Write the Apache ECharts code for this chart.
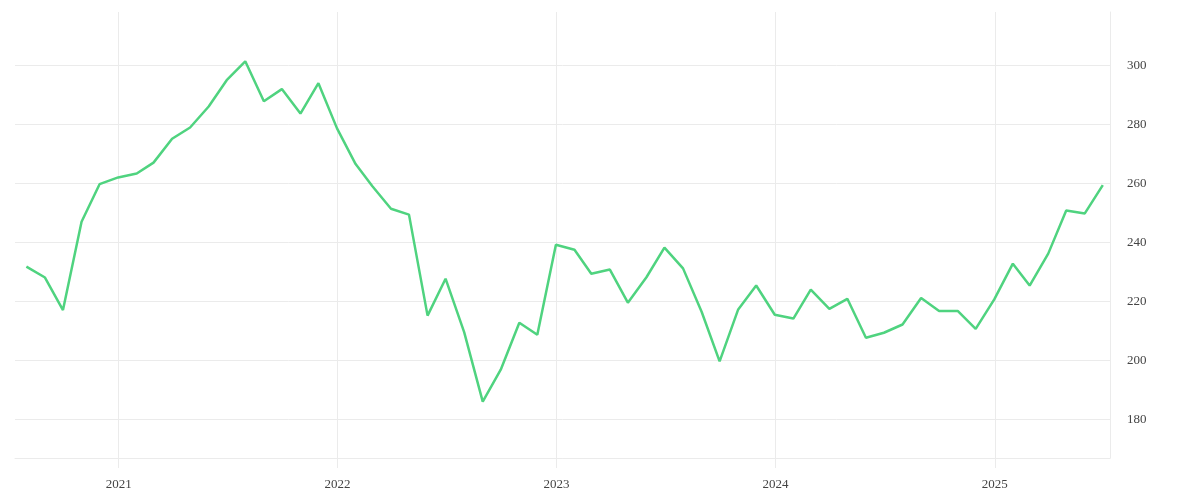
<!DOCTYPE html>
<html>
<head>
<meta charset="utf-8">
<script src="https://cdn.jsdelivr.net/npm/echarts@6.0.0/dist/echarts.min.js"></script>
<style>
  html, body { margin: 0; padding: 0; background: #fff; }
  #chart { width: 1200px; height: 500px; }
</style>
</head>
<body>
<div id="chart"></div>
<script>
// month-end dates
const dates = [
  '2020-07-31', '2020-08-31', '2020-09-30', '2020-10-31', '2020-11-30', '2020-12-31',
  '2021-01-31', '2021-02-28', '2021-03-31', '2021-04-30', '2021-05-31', '2021-06-30',
  '2021-07-31', '2021-08-31', '2021-09-30', '2021-10-31', '2021-11-30', '2021-12-31',
  '2022-01-31', '2022-02-28', '2022-03-31', '2022-04-30', '2022-05-31', '2022-06-30',
  '2022-07-31', '2022-08-31', '2022-09-30', '2022-10-31', '2022-11-30', '2022-12-31',
  '2023-01-31', '2023-02-28', '2023-03-31', '2023-04-30', '2023-05-31', '2023-06-30',
  '2023-07-31', '2023-08-31', '2023-09-30', '2023-10-31', '2023-11-30', '2023-12-31',
  '2024-01-31', '2024-02-29', '2024-03-31', '2024-04-30', '2024-05-31', '2024-06-30',
  '2024-07-31', '2024-08-31', '2024-09-30', '2024-10-31', '2024-11-30', '2024-12-31',
  '2025-01-31', '2025-02-28', '2025-03-31', '2025-04-30', '2025-05-31', '2025-06-30'
];

const values = [
  231.8, 228.1, 217.1, 247.0, 259.7, 262.0,
  263.3, 267.0, 275.1, 278.9, 286.0, 294.9,
  301.3, 287.8, 291.9, 283.6, 293.9, 278.6,
  266.5, 259.0, 251.4, 249.4, 215.2, 227.7,
  209.6, 186.1, 196.9, 212.8, 208.7, 239.2,
  237.5, 229.4, 230.8, 219.6, 228.2, 238.2,
  231.2, 216.5, 199.7, 217.3, 225.4, 215.5,
  214.2, 224.0, 217.5, 220.9, 207.7, 209.4,
  212.2, 221.2, 216.8, 216.8, 210.7, 220.7,
  232.8, 225.4, 236.2, 250.8, 249.8, 259.4
];

const xRange = ['2020-07-12', '2025-07-12'];
const yRange = [167, 318];

const gridColor = '#ebebeb';
const labelFont = {
  color: '#444',
  fontFamily: 'Liberation Serif',
  fontSize: 13
};

const chart = echarts.init(document.getElementById('chart'));
const YEAR = 365 * 24 * 3600 * 1000;

chart.setOption({
  animation: false,
  grid: { left: 15, right: 90, top: 12, bottom: 42, containLabel: false },
  xAxis: {
    type: 'time',
    min: xRange[0],
    max: xRange[1],
    minInterval: YEAR,
    maxInterval: YEAR,
    axisLine: { show: true, lineStyle: { color: gridColor } },
    axisTick: {
      show: true, length: 10,
      lineStyle: { color: ['transparent', gridColor, gridColor, gridColor, gridColor, gridColor, gridColor] }
    },
    splitLine: {
      show: true,
      lineStyle: { color: ['transparent', gridColor, gridColor, gridColor, gridColor, gridColor, gridColor] }
    },
    axisLabel: Object.assign({ formatter: '{yyyy}', margin: 20 }, labelFont)
  },
  yAxis: {
    type: 'value',
    position: 'right',
    min: yRange[0],
    max: yRange[1],
    splitNumber: 7,
    axisLine: { show: true, lineStyle: { color: gridColor } },
    axisTick: { show: false },
    splitLine: {
      show: true,
      lineStyle: { color: [gridColor, gridColor, gridColor, gridColor, gridColor, gridColor, gridColor, gridColor, 'transparent'] }
    },
    axisLabel: Object.assign({ margin: 17, showMinLabel: false, showMaxLabel: false }, labelFont)
  },
  series: [{
    type: 'line',
    data: dates.map((d, i) => [d, values[i]]),
    symbol: 'none',
    lineStyle: { color: '#4fd37f', width: 2.5 }
  }]
});
</script>
</body>
</html>
